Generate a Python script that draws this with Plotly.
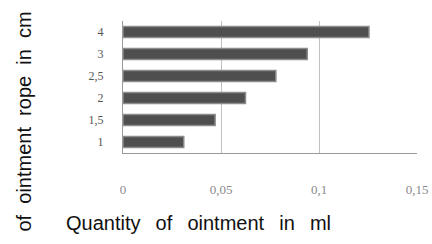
import plotly.graph_objects as go

categories = ["1", "1,5", "2", "2,5", "3", "4"]
values = [0.031, 0.047, 0.0625, 0.078, 0.094, 0.1255]
x_tickvals = [0, 0.05, 0.1, 0.15]
x_ticktext = ["0", "0,05", "0,1", "0,15"]
sp_x = "\u00a0\u00a0\u2009"
sp_y = "\u00a0\u00a0"
x_title = sp_x.join(["Quantity", "of", "ointment", "in", "ml"])
y_title = sp_y.join(["of", "ointment", "rope", "in", "cm"])

W, H = 432, 244
L, R, T, B = 123, 15, 21, 91
PW, PH = W - L - R, H - T - B

def px(xp):
    return (xp - L) / PW

def py(yp):
    return (H - B - yp) / PH

fig = go.Figure()
fig.add_trace(go.Bar(
    x=values, y=categories, orientation="h",
    width=0.5,
    marker=dict(color="#4f4f4f", line=dict(color="#8c8c8c", width=1.5)),
))

fig.update_layout(
    width=W, height=H,
    margin=dict(l=L, r=R, t=T, b=B, autoexpand=False),
    paper_bgcolor="white", plot_bgcolor="white",
    showlegend=False,
    xaxis=dict(
        range=[0, 0.15], tickvals=x_tickvals, ticktext=x_ticktext,
        automargin=False,
        showgrid=True, gridcolor="#c0c0c0", gridwidth=1,
        zeroline=False, showline=True, linecolor="#9a9a9a",
        ticks="", ticklabelstandoff=24, ticklabeloverflow="allow",
        tickfont=dict(family="Liberation Serif", size=13, color="#8a8a8a"),
    ),
    yaxis=dict(
        type="category", categoryorder="array", categoryarray=categories,
        range=[-0.5, 5.5], automargin=False,
        showgrid=False, zeroline=False, showline=True, linecolor="#9a9a9a",
        ticks="", ticklabelstandoff=16,
        tickfont=dict(family="Liberation Serif", size=12, color="#555555"),
    ),
    annotations=[
        dict(text=x_title, xref="paper", yref="paper", x=px(198.5), y=py(223),
             xanchor="center", yanchor="middle", showarrow=False,
             font=dict(family="Liberation Sans", size=20, color="#111111")),
        dict(text=y_title, xref="paper", yref="paper", x=px(23), y=py(121.5),
             xanchor="center", yanchor="middle", showarrow=False, textangle=-90,
             font=dict(family="Liberation Sans", size=20, color="#111111")),
    ],
)

fig.write_html(
    "out.html",
    config={"displayModeBar": False},
    post_script="document.body.style.margin='0';document.documentElement.style.overflow='hidden';",
)
